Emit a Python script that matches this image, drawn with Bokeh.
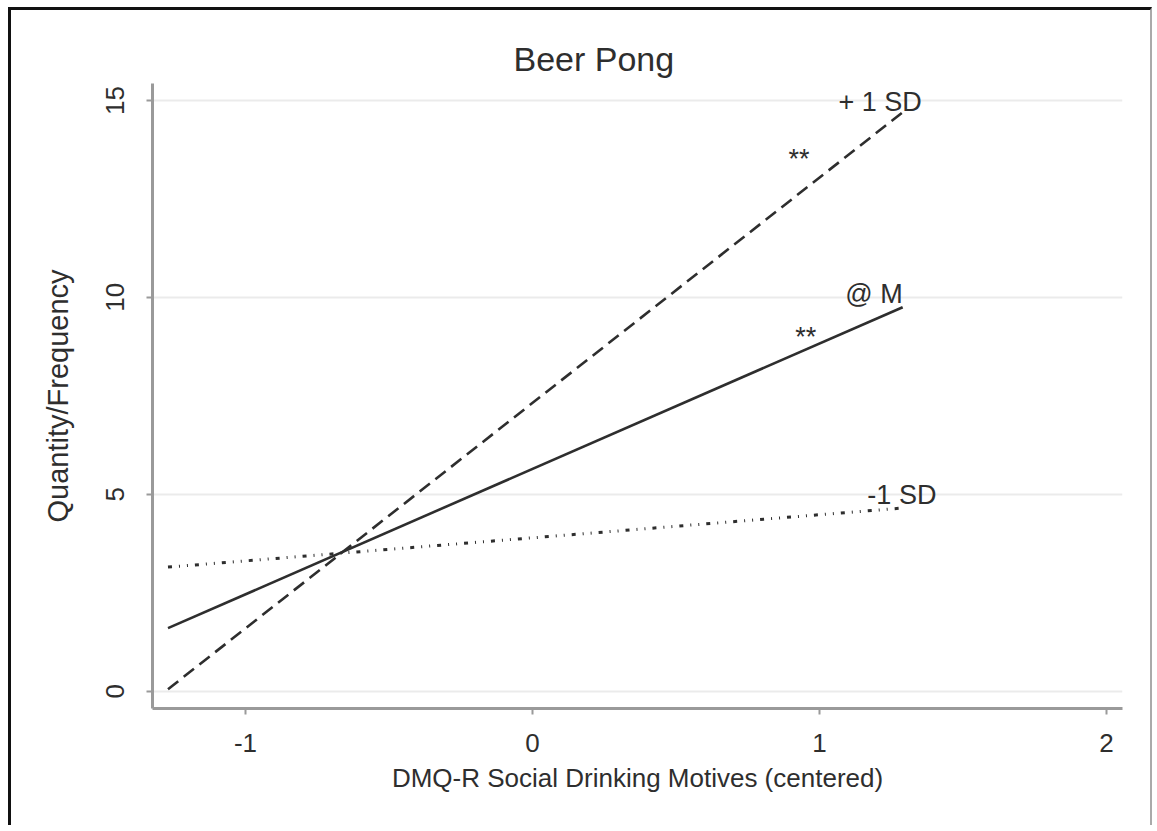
import math
from bokeh.plotting import figure
from bokeh.models import Range1d, Label, FixedTicker
from bokeh.embed import file_html
from bokeh.resources import INLINE

# ---- data ----
x_ends = [-1.27, 1.29]
plus_sd = [0.05, 14.7]
at_mean = [1.6, 9.75]
minus_sd = [3.15, 4.65]
x_ticks = [-1, 0, 1, 2]
x_tick_labels = ["-1", "0", "1", "2"]
y_ticks = [0, 5, 10, 15]

FONT = "Liberation Sans"
INK = "#2e2e2e"
AXIS = "#9a9a9a"

p = figure(width=1144, height=818, output_backend="svg", toolbar_location=None,
           x_range=Range1d(-1.324, 2.056), y_range=Range1d(-0.44, 15.43),
           min_border_left=141, min_border_right=33, min_border_top=73,
           min_border_bottom=120)
p.styles = {"margin": "7px 0 0 8px",
            "border-left": "3px solid #111",
            "border-top": "3px solid #111",
            "border-right": "2px solid #aaa"}
p.outline_line_color = None
p.background_fill_color = "white"
p.border_fill_color = "white"

# title
p.title.text = "Beer Pong"
p.title.align = "left"
p.title.offset = 361
p.title.standoff = 11
p.title.text_font = FONT
p.title.text_font_size = "34px"
p.title.text_font_style = "normal"
p.title.text_color = INK

# grid
p.xgrid.visible = False
p.ygrid.ticker = FixedTicker(ticks=y_ticks)
p.ygrid.grid_line_color = "#ebebeb"
p.ygrid.grid_line_width = 2

# axes
p.xaxis.ticker = FixedTicker(ticks=x_ticks)
p.xaxis.major_label_overrides = {t: s for t, s in zip(x_ticks, x_tick_labels)}
p.yaxis.ticker = FixedTicker(ticks=y_ticks)
for ax in (p.xaxis[0], p.yaxis[0]):
    ax.axis_line_color = AXIS
    ax.axis_line_width = 3
    ax.major_tick_line_color = AXIS
    ax.major_tick_line_width = 2
    ax.major_tick_out = 6
    ax.major_tick_in = 0
    ax.minor_tick_line_color = None
    ax.major_label_text_font = FONT
    ax.major_label_text_font_size = "26px"
    ax.major_label_text_color = INK
    ax.axis_label_text_font = FONT
    ax.axis_label_text_font_style = "normal"
    ax.axis_label_text_color = INK

p.xaxis.axis_label = "DMQ-R Social Drinking Motives (centered)"
p.xaxis.axis_label_text_font_size = "26px"
p.xaxis.major_label_standoff = 19
p.xaxis.axis_label_standoff = 8

p.yaxis.axis_label = "Quantity/Frequency"
p.yaxis.axis_label_text_font_size = "29px"
p.yaxis.major_label_orientation = "parallel"
p.yaxis.major_label_standoff = 22
p.yaxis.axis_label_standoff = 30

# lines
p.line(x_ends, plus_sd, line_color=INK, line_width=2.6, line_dash="13 7")
p.line(x_ends, at_mean, line_color=INK, line_width=2.6)
p.line(x_ends, minus_sd, line_color=INK, line_width=3, line_dash="4 7 1 7 1 7")

# line labels
labels = [
    (1.066, 14.96, "+ 1 SD"),
    (1.09, 10.09, "@ M"),
    (1.167, 4.99, "-1 SD"),
    (0.892, 13.52, "**"),
    (0.916, 9.0, "**"),
]
for lx, ly, t in labels:
    p.add_layout(Label(x=lx, y=ly, text=t, text_align="left",
                       text_baseline="alphabetic", text_font=FONT,
                       text_font_size="27px", text_color=INK))

open("out.html", "w").write(file_html(p, INLINE))
